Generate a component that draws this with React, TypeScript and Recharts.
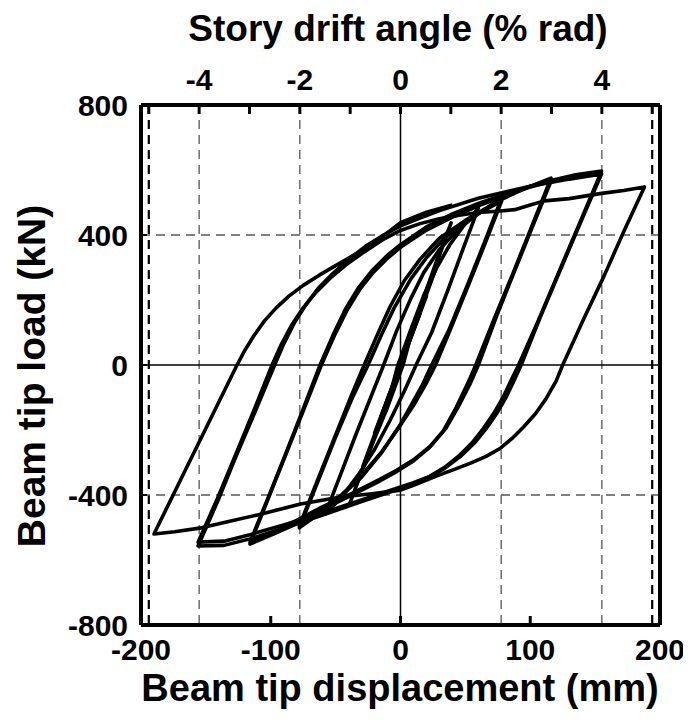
import React from 'react';
import { LineChart, Line, XAxis, YAxis, ReferenceLine } from 'recharts';

// ---- axis ticks ----
const dispTicks = [-200, -100, 0, 100, 200];
const driftTicks = [-5, -4, -3, -2, -1, 0, 1, 2, 3, 4, 5];
const loadTicks = [-800, -400, 0, 400, 800];
const driftGrid = [-4, -2, 2, 4];
const driftEdge = [-5, 5];
const loadGrid = [-400, 400];

// ---- hysteresis branches: [displacement mm, load kN] ----
const elastic15 = [[0, 0], [15, 158], [-15, -158], [0, 0]];
const elastic20 = [[0, 0], [20, 212], [-20, -210], [0, 0]];
const elastic30 = [[0, 0], [29, 315], [-29, -312], [0, 0]];

const cycle1pct = [
  [0, 0], [13, 145], [26, 292], [39, 437],
  [30, 345], [20, 232], [10, 120], [2, 0], [-10, -130], [-25, -275], [-39, -425],
  [-30, -330], [-18, -205], [-8, -90], [-2, 0],
];

const cycle15pct = [
  [-2, 0], [8, 110], [18, 215], [28, 300], [38, 370], [48, 425], [60, 483],
  [48, 355], [36, 225], [24, 100], [12, 0], [3, -80], [-8, -170], [-20, -260], [-32, -335], [-45, -405], [-58, -459],
  [-46, -335], [-34, -210], [-23, -100], [-13, 0],
];

const cycle2pctA = [
  [-13, 0], [-3, 105], [8, 205], [18, 285], [30, 355], [45, 420], [60, 465], [78, 514],
  [65, 380], [51, 240], [37, 105], [24, 0], [17, -60], [8, -125], [0, -182], [-15, -272], [-30, -345], [-45, -400], [-60, -450], [-78, -501],
  [-64, -362], [-50, -222], [-37, -100], [-25, 0],
];

const cycle2pctB = [
  [-25, 0], [-15, 90], [-5, 175], [8, 265], [20, 330], [35, 395], [55, 455], [78, 505],
  [65, 372], [51, 232], [38, 105], [27, 0], [20, -55], [10, -125], [0, -185], [-15, -270], [-30, -340], [-45, -398], [-60, -445], [-78, -495],
  [-64, -355], [-50, -215], [-38, -95], [-28, 0],
];

const cycle3pctA = [
  [-28, 0], [-18, 92], [-8, 180], [3, 260], [15, 325], [30, 390], [50, 445], [77, 508], [97, 545], [116, 575],
  [102, 435], [87, 285], [72, 140], [58, 0], [52, -55], [43, -130], [33, -203], [22, -255], [10, -295], [-3, -328], [-16, -357], [-40, -405], [-60, -445], [-78, -485], [-98, -520], [-116, -551],
  [-102, -412], [-88, -272], [-74, -132], [-61, 0],
];

const cycle3pctB = [
  [-61, 0], [-51, 90], [-41, 170], [-31, 235], [-21, 285], [-11, 325], [0, 362], [20, 415], [40, 455], [60, 490], [80, 520], [98, 545], [116, 565],
  [102, 428], [88, 290], [74, 150], [60, 0], [54, -55], [45, -125], [35, -195], [23, -250], [10, -292], [-3, -324], [-16, -352], [-40, -400], [-62, -440], [-80, -478], [-98, -515], [-116, -545],
  [-102, -408], [-88, -268], [-75, -135], [-62, 0],
];

const cycle4pctA = [
  [-62, 0], [-52, 92], [-42, 175], [-32, 240], [-22, 290], [-10, 338], [0, 370], [20, 425], [40, 465], [60, 497], [80, 525], [100, 550], [116, 568], [135, 585], [155, 597],
  [140, 455], [123, 295], [106, 135], [91, 0], [85, -49], [79, -100], [72, -148], [64, -195], [55, -240], [45, -280], [34, -315], [22, -344], [10, -366], [0, -380], [-30, -420], [-60, -462], [-90, -502], [-116, -535], [-136, -555], [-156, -557],
  [-141, -420], [-127, -283], [-112, -143], [-97, 0],
];

const cycle4pctB = [
  [-97, 0], [-90, 65], [-82, 128], [-73, 185], [-63, 238], [-52, 282], [-40, 325], [-27, 365], [-13, 400], [0, 428], [15, 452], [30, 475], [60, 513], [100, 550], [130, 572], [155, 588],
  [140, 450], [124, 300], [108, 150], [93, 0], [87, -52], [81, -102], [74, -150], [66, -196], [57, -240], [46, -282], [34, -318], [22, -344], [10, -362], [0, -375], [-30, -415], [-60, -455], [-90, -492], [-116, -522], [-136, -542], [-156, -545],
  [-141, -410], [-127, -275], [-113, -140], [-99, 0],
];

const cycle5pct = [
  [-99, 0], [-92, 62], [-84, 122], [-75, 176], [-65, 224], [-54, 268], [-42, 308], [-28, 348], [-14, 385], [0, 414], [15, 435], [30, 450], [45, 461], [60, 469], [77, 474], [88, 478], [100, 492], [111, 505], [130, 512], [155, 528], [172, 537], [188, 548],
  [172, 410], [157, 275], [141, 140], [125, 0], [120, -49], [112, -105], [104, -150], [95, -190], [86, -226], [77, -256], [66, -281], [54, -302], [41, -322], [30, -338], [20, -354], [10, -370], [0, -385], [-22, -396], [-46, -406], [-77, -428], [-111, -462], [-135, -484], [-155, -502], [-174, -513], [-190, -520],
  [-174, -390], [-158, -260], [-142, -130], [-126, 0],
];

const finalReload = [
  [-126, 0], [-120, 45], [-113, 90], [-105, 135], [-96, 175], [-86, 212], [-75, 245], [-62, 278], [-46, 315], [-30, 352], [-15, 392], [0, 438], [20, 470], [40, 492],
];

const branches = [
  elastic15, elastic20, elastic30, cycle1pct, cycle15pct, cycle2pctA, cycle2pctB,
  cycle3pctA, cycle3pctB, cycle4pctA, cycle4pctB, cycle5pct, finalReload,
];

const toPts = (arr: number[][]) => arr.map(([x, y]) => ({ x, y }));

const FONT = 'Liberation Sans, Arial, Helvetica, sans-serif';
const tickStyle = { fill: '#000', fontSize: 30, fontWeight: 700, fontFamily: FONT };

export default function App() {
  return (
    <div style={{ position: 'relative', width: 683, height: 710, fontFamily: FONT }}>
      <LineChart
        width={683}
        height={710}
        margin={{ top: 57, right: 21, bottom: 53, left: 63 }}
      >
        <XAxis
          xAxisId="bottom"
          type="number"
          dataKey="x"
          domain={[-200, 200]}
          ticks={dispTicks}
          interval={0}
          allowDataOverflow
          height={40}
          axisLine={{ stroke: '#000', strokeWidth: 4 }}
          tickLine={{ stroke: '#000', strokeWidth: 3 }}
          tickSize={-9}
          tickMargin={23}
          tick={tickStyle}
        />
        <XAxis
          xAxisId="top"
          orientation="top"
          type="number"
          dataKey="x"
          domain={[-5.155, 5.155]}
          ticks={driftTicks}
          interval={0}
          allowDataOverflow
          height={40}
          axisLine={{ stroke: '#000', strokeWidth: 4 }}
          tickLine={{ stroke: '#000', strokeWidth: 3 }}
          tickSize={-9}
          tickMargin={24}
          tick={tickStyle}
          tickFormatter={(v: number) => (v % 2 === 0 ? String(v) : '')}
        />
        <YAxis
          yAxisId="left"
          type="number"
          dataKey="y"
          domain={[-800, 800]}
          ticks={loadTicks}
          interval={0}
          allowDataOverflow
          width={70}
          axisLine={{ stroke: '#000', strokeWidth: 4 }}
          tickLine={{ stroke: '#000', strokeWidth: 2 }}
          tickSize={-6}
          tickMargin={19}
          tick={tickStyle}
        />
        <YAxis
          yAxisId="right"
          orientation="right"
          type="number"
          domain={[-800, 800]}
          allowDataOverflow
          width={10}
          axisLine={{ stroke: '#000', strokeWidth: 4 }}
          tick={false}
          tickLine={false}
        />

        {driftGrid.map((d) => (
          <ReferenceLine key={'dg' + d} xAxisId="top" yAxisId="left" x={d} stroke="#555" strokeWidth={1.3} strokeDasharray="9 6" />
        ))}
        {driftEdge.map((d) => (
          <ReferenceLine key={'de' + d} xAxisId="top" yAxisId="left" x={d} stroke="#000" strokeWidth={2.2} strokeDasharray="9 6" />
        ))}
        {loadGrid.map((v) => (
          <ReferenceLine key={'lg' + v} xAxisId="bottom" yAxisId="left" y={v} stroke="#555" strokeWidth={1.3} strokeDasharray="9 6" />
        ))}
        <ReferenceLine xAxisId="bottom" yAxisId="left" x={0} stroke="#000" strokeWidth={1.5} />
        <ReferenceLine xAxisId="bottom" yAxisId="left" y={0} stroke="#000" strokeWidth={1.5} />

        {branches.map((b, i) => (
          <Line
            key={'b' + i}
            xAxisId="bottom"
            yAxisId="left"
            data={toPts(b)}
            dataKey="y"
            type="linear"
            dot={false}
            activeDot={false}
            stroke="#000"
            strokeWidth={3.6}
            strokeLinejoin="round"
            isAnimationActive={false}
          />
        ))}
      </LineChart>

      <div style={{ position: 'absolute', left: 90, width: 600, top: 2, textAlign: 'center', fontSize: 37, fontWeight: 700, lineHeight: 1, whiteSpace: 'nowrap' }}>
        Story drift angle (% rad)
      </div>
      <div style={{ position: 'absolute', left: 92, width: 600, top: 661, textAlign: 'center', fontSize: 38, fontWeight: 700, lineHeight: 1, whiteSpace: 'nowrap' }}>
        Beam tip displacement (mm)
      </div>
      <div style={{ position: 'absolute', left: 23 - 300, width: 600, top: 368 - 19, height: 38, textAlign: 'center', fontSize: 39, fontWeight: 700, lineHeight: 1, whiteSpace: 'nowrap', transform: 'rotate(-90deg)', transformOrigin: '50% 50%' }}>
        Beam tip load (kN)
      </div>
    </div>
  );
}
